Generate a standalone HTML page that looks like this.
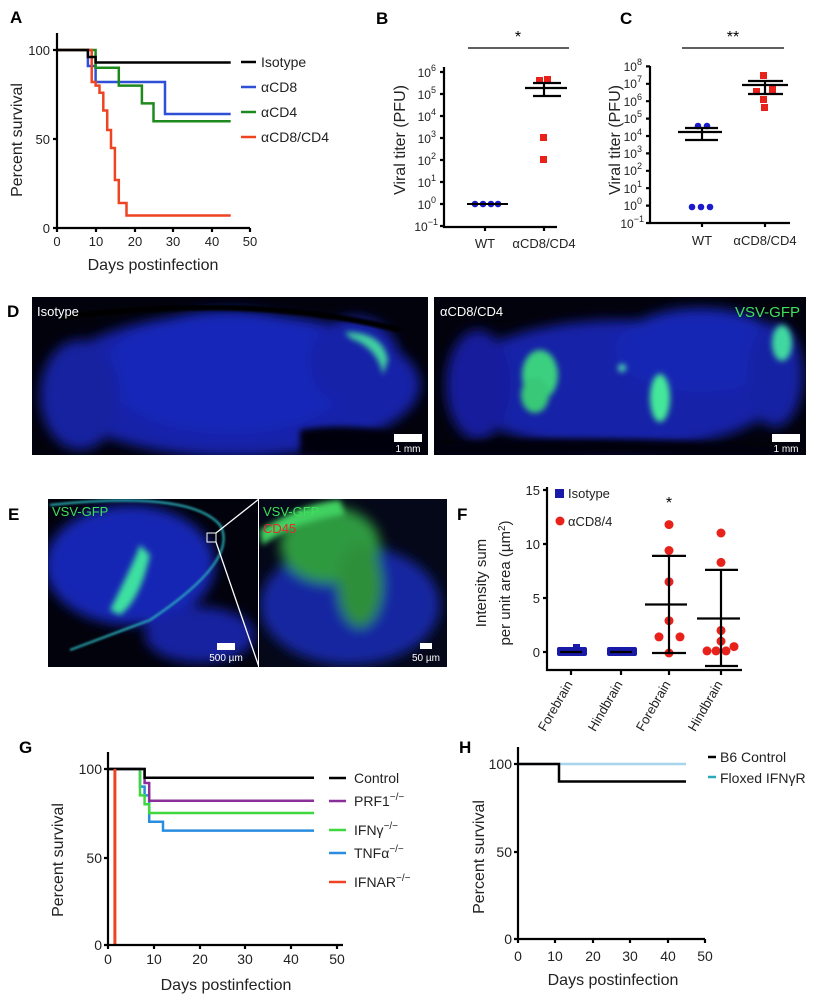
<!DOCTYPE html>
<html><head><meta charset="utf-8"><style>
html,body{margin:0;padding:0;background:#fff;}
svg{display:block;font-family:"Liberation Sans",Arial,sans-serif;}
</style></head><body>
<svg width="821" height="1001" viewBox="0 0 821 1001" xmlns="http://www.w3.org/2000/svg">
<defs>
<filter id="b6" x="-50%" y="-50%" width="200%" height="200%"><feGaussianBlur stdDeviation="6"/></filter>
<filter id="b3" x="-50%" y="-50%" width="200%" height="200%"><feGaussianBlur stdDeviation="3"/></filter>
<filter id="b1"><feGaussianBlur stdDeviation="1"/></filter>
<clipPath id="cD1"><rect x="32" y="297" width="396" height="158"/></clipPath>
<clipPath id="cD2"><rect x="434" y="297" width="372" height="158"/></clipPath>
<clipPath id="cE1"><rect x="48" y="499" width="210" height="168"/></clipPath>
<clipPath id="cE2"><rect x="259" y="499" width="188" height="168"/></clipPath>
</defs>
<rect width="821" height="1001" fill="#fff"/>

<!-- ===== A ===== -->
<text x="10" y="23" font-size="17" font-weight="bold">A</text>
<g fill="none" stroke-width="2.5" stroke-linejoin="miter">
<path d="M57,50 H87.9 V66 H95.6 V82 H165 V114 H230.7" stroke="#2f4fd6"/>
<path d="M57,50 H95.6 V67.8 H118.8 V85.6 H141.9 V103.4 H153.5 V121.2 H230.7" stroke="#1e8a1e"/>
<path d="M57,50 H91.7 V82 H95.6 V85.6 H99.5 V92.7 H103.3 V110.5 H107.2 V130 H111 V148 H114.9 V180 H118.8 V203 H126.5 V215.5 H230.7" stroke="#ee4422"/>
<path d="M57,50 H87.9 V57 H95.6 V62.5 H230.7" stroke="#000"/>
</g>
<g stroke="#000" stroke-width="2.2" fill="none">
<path d="M57,33 V228 H250"/>
<path d="M53,50 H57 M53,139 H57 M53,228 H57 M57,228 V232 M96,228 V232 M135,228 V232 M173,228 V232 M212,228 V232 M250,228 V232"/>
</g>
<g font-size="13" fill="#222">
<text x="50" y="55" text-anchor="end">100</text>
<text x="50" y="144" text-anchor="end">50</text>
<text x="50" y="233" text-anchor="end">0</text>
<g text-anchor="middle"><text x="57" y="246">0</text><text x="96" y="246">10</text><text x="135" y="246">20</text><text x="173" y="246">30</text><text x="212" y="246">40</text><text x="250" y="246">50</text></g>
</g>
<text x="153" y="270" font-size="16" text-anchor="middle" fill="#222">Days postinfection</text>
<text transform="translate(22,140) rotate(-90)" font-size="16" text-anchor="middle" fill="#222">Percent survival</text>
<g stroke-width="2.5"><line x1="241" y1="62" x2="256" y2="62" stroke="#000"/><line x1="241" y1="87" x2="256" y2="87" stroke="#2f4fd6"/><line x1="241" y1="112" x2="256" y2="112" stroke="#1e8a1e"/><line x1="241" y1="137" x2="256" y2="137" stroke="#ee4422"/></g>
<g font-size="14" fill="#222"><text x="261" y="67">Isotype</text><text x="261" y="92">αCD8</text><text x="261" y="117">αCD4</text><text x="261" y="142">αCD8/CD4</text></g>

<!-- ===== B ===== -->
<text x="376" y="24" font-size="17" font-weight="bold">B</text>
<line x1="468" y1="48" x2="569" y2="48" stroke="#000" stroke-width="1.3"/>
<text x="518" y="42" font-size="16" text-anchor="middle">*</text>
<g stroke="#000" stroke-width="2.2" fill="none">
<path d="M444,67 V227 H557"/>
<path d="M440,72 H444 M440,94 H444 M440,116 H444 M440,138 H444 M440,160 H444 M440,182 H444 M440,204 H444 M440,226 H444 M485,227 V231 M544,227 V231"/>
</g>
<g font-size="12" fill="#222" text-anchor="end">
<text x="436" y="77">10<tspan dy="-6" font-size="9">6</tspan></text>
<text x="436" y="99">10<tspan dy="-6" font-size="9">5</tspan></text>
<text x="436" y="121">10<tspan dy="-6" font-size="9">4</tspan></text>
<text x="436" y="143">10<tspan dy="-6" font-size="9">3</tspan></text>
<text x="436" y="165">10<tspan dy="-6" font-size="9">2</tspan></text>
<text x="436" y="187">10<tspan dy="-6" font-size="9">1</tspan></text>
<text x="436" y="209">10<tspan dy="-6" font-size="9">0</tspan></text>
<text x="438" y="231">10<tspan dy="-6" font-size="9">−1</tspan></text>
</g>
<text transform="translate(405,140) rotate(-90)" font-size="16" text-anchor="middle" fill="#222">Viral titer (PFU)</text>
<g fill="#1a1acc"><circle cx="475" cy="204" r="3.3"/><circle cx="483" cy="204" r="3.3"/><circle cx="491" cy="204" r="3.3"/><circle cx="498" cy="204" r="3.3"/></g>
<line x1="467" y1="204" x2="508" y2="204" stroke="#000" stroke-width="2"/>
<g fill="#e8211b"><rect x="536" y="77" width="7" height="7"/><rect x="544" y="76" width="7" height="7"/><rect x="540" y="134" width="7" height="7"/><rect x="540" y="156" width="7" height="7"/></g>
<g stroke="#000" stroke-width="2.2"><line x1="525" y1="88" x2="567" y2="88"/><line x1="533" y1="83" x2="561" y2="83"/><line x1="533" y1="96" x2="561" y2="96"/><line x1="544" y1="83" x2="544" y2="96"/></g>
<g font-size="13" fill="#222" text-anchor="middle"><text x="485" y="248">WT</text><text x="544" y="248">αCD8/CD4</text></g>

<!-- ===== C ===== -->
<text x="620" y="24" font-size="17" font-weight="bold">C</text>
<line x1="682" y1="48" x2="784" y2="48" stroke="#000" stroke-width="1.3"/>
<text x="733" y="42" font-size="16" text-anchor="middle">**</text>
<g stroke="#000" stroke-width="2.2" fill="none">
<path d="M650,66 V223 H790"/>
<path d="M646,66.4 H650 M646,83.8 H650 M646,101.2 H650 M646,118.6 H650 M646,136 H650 M646,153.4 H650 M646,170.8 H650 M646,188.2 H650 M646,205.6 H650 M646,223 H650 M702,223 V227 M765,223 V227"/>
</g>
<g font-size="12" fill="#222" text-anchor="end">
<text x="642" y="71">10<tspan dy="-6" font-size="9">8</tspan></text>
<text x="642" y="88">10<tspan dy="-6" font-size="9">7</tspan></text>
<text x="642" y="106">10<tspan dy="-6" font-size="9">6</tspan></text>
<text x="642" y="123">10<tspan dy="-6" font-size="9">5</tspan></text>
<text x="642" y="141">10<tspan dy="-6" font-size="9">4</tspan></text>
<text x="642" y="158">10<tspan dy="-6" font-size="9">3</tspan></text>
<text x="642" y="175">10<tspan dy="-6" font-size="9">2</tspan></text>
<text x="642" y="193">10<tspan dy="-6" font-size="9">1</tspan></text>
<text x="642" y="210">10<tspan dy="-6" font-size="9">0</tspan></text>
<text x="644" y="228">10<tspan dy="-6" font-size="9">−1</tspan></text>
</g>
<text transform="translate(620,140) rotate(-90)" font-size="16" text-anchor="middle" fill="#222">Viral titer (PFU)</text>
<g fill="#1a1acc"><circle cx="698" cy="126" r="3.3"/><circle cx="707" cy="126" r="3.3"/><circle cx="692" cy="207" r="3.3"/><circle cx="701" cy="207" r="3.3"/><circle cx="710" cy="207" r="3.3"/></g>
<g stroke="#000" stroke-width="2.2"><line x1="678" y1="132" x2="722" y2="132"/><line x1="685" y1="128" x2="718" y2="128"/><line x1="685" y1="140" x2="718" y2="140"/><line x1="702" y1="128" x2="702" y2="140"/></g>
<g fill="#e8211b"><rect x="760" y="72" width="7" height="7"/><rect x="753" y="88" width="7" height="7"/><rect x="769" y="86" width="7" height="7"/><rect x="760" y="96" width="7" height="7"/><rect x="761" y="104" width="7" height="7"/></g>
<g stroke="#000" stroke-width="2.2"><line x1="742" y1="85" x2="788" y2="85"/><line x1="748" y1="81" x2="783" y2="81"/><line x1="748" y1="94" x2="783" y2="94"/><line x1="765" y1="81" x2="765" y2="94"/></g>
<g font-size="13" fill="#222" text-anchor="middle"><text x="702" y="245">WT</text><text x="765" y="245">αCD8/CD4</text></g>

<!-- ===== D ===== -->
<text x="7" y="317" font-size="17" font-weight="bold">D</text>
<rect x="32" y="297" width="396" height="158" fill="#02020c"/>
<g clip-path="url(#cD1)">
<g filter="url(#b6)">
<ellipse cx="235" cy="385" rx="185" ry="72" fill="#1422a8"/>
<ellipse cx="230" cy="372" rx="125" ry="62" fill="#1828b8"/>
<ellipse cx="355" cy="362" rx="45" ry="45" fill="#1624a8"/>
<ellipse cx="80" cy="395" rx="40" ry="55" fill="#1320a0"/>
</g>
<path d="M60,318 Q250,292 400,330" stroke="#000" stroke-width="6" fill="none" filter="url(#b1)"/>
<path d="M300,430 Q360,420 420,440 L420,455 L300,455 Z" fill="#02020c" filter="url(#b3)"/>
<path d="M345,332 Q383,332 388,360 L383,375 Q378,348 350,338 Z" fill="#3fd0a0" filter="url(#b3)"/>
</g>
<rect x="394" y="434" width="28" height="8" fill="#fff"/>
<text x="408" y="452" font-size="10" fill="#fff" text-anchor="middle">1 mm</text>
<text x="37" y="316" font-size="13" fill="#fff">Isotype</text>

<rect x="434" y="297" width="372" height="158" fill="#02020c"/>
<g clip-path="url(#cD2)">
<g filter="url(#b6)">
<ellipse cx="620" cy="385" rx="165" ry="65" fill="#1422a8"/>
<ellipse cx="700" cy="350" rx="85" ry="42" fill="#1626b4"/>
<ellipse cx="478" cy="385" rx="32" ry="55" fill="#121f9c"/>
<ellipse cx="775" cy="375" rx="28" ry="52" fill="#1424a4"/>
</g>
<path d="M440,445 Q600,430 800,450 L806,455 L434,455 Z" fill="#02020c" filter="url(#b3)"/>
<g filter="url(#b3)">
<ellipse cx="540" cy="375" rx="18" ry="25" fill="#3ad080"/>
<ellipse cx="535" cy="395" rx="14" ry="18" fill="#38c878"/>
<ellipse cx="660" cy="398" rx="10" ry="24" fill="#44e89a"/>
<ellipse cx="782" cy="343" rx="10" ry="18" fill="#40d8a0"/>
<circle cx="622" cy="368" r="4" fill="#50e0b0"/>
</g>
</g>
<rect x="772" y="434" width="28" height="8" fill="#fff"/>
<text x="786" y="452" font-size="10" fill="#fff" text-anchor="middle">1 mm</text>
<text x="440" y="316" font-size="13" fill="#fff">αCD8/CD4</text>
<text x="800" y="317" font-size="15" fill="#3ee05a" text-anchor="end">VSV-GFP</text>

<!-- ===== E ===== -->
<text x="8" y="520" font-size="17" font-weight="bold">E</text>
<rect x="48" y="499" width="210" height="168" fill="#02020c"/>
<g clip-path="url(#cE1)">
<g filter="url(#b6)">
<ellipse cx="130" cy="565" rx="85" ry="60" fill="#1626b4"/>
<ellipse cx="200" cy="635" rx="55" ry="28" fill="#1320a0"/>
</g>
<path d="M110,610 Q135,560 140,545 L150,555 Q140,600 120,615 Z" fill="#3ee0a0" filter="url(#b3)"/>
<path d="M50,505 Q190,490 220,525 Q240,560 150,620 L70,650" stroke="#2ab8c0" stroke-width="2" fill="none" filter="url(#b1)"/>
</g>
<rect x="207" y="533" width="9" height="9" fill="none" stroke="#fff" stroke-width="1"/>
<line x1="216" y1="533" x2="259" y2="499" stroke="#fff" stroke-width="1.3"/>
<line x1="216" y1="542" x2="259" y2="667" stroke="#fff" stroke-width="1.3"/>
<rect x="217" y="643" width="18" height="7" fill="#fff"/>
<text x="226" y="661" font-size="10" fill="#fff" text-anchor="middle">500 µm</text>
<text x="52" y="516" font-size="13" fill="#3ee05a">VSV-GFP</text>

<rect x="259" y="499" width="188" height="168" fill="#050818"/>
<g clip-path="url(#cE2)">
<g filter="url(#b6)">
<ellipse cx="350" cy="605" rx="90" ry="60" fill="#1626a0"/>
<ellipse cx="330" cy="545" rx="50" ry="38" fill="#2f9a40"/>
<ellipse cx="360" cy="585" rx="22" ry="42" fill="#2e8f3a"/>
</g>
<path d="M260,530 Q300,505 340,500 L345,515 Q300,520 262,545 Z" fill="#40d060" filter="url(#b3)"/>
</g>
<text x="263" y="516" font-size="13" fill="#3ee05a">VSV-GFP</text>
<text x="263" y="533" font-size="13" fill="#e62a2a">CD45</text>
<rect x="420" y="643" width="12" height="6" fill="#fff"/>
<text x="426" y="661" font-size="10" fill="#fff" text-anchor="middle">50 µm</text>

<!-- ===== F ===== -->
<text x="457" y="520" font-size="17" font-weight="bold">F</text>
<g stroke="#000" stroke-width="2.2" fill="none">
<path d="M547,487 V670 H742"/>
<path d="M543,490 H547 M543,544 H547 M543,598 H547 M543,652 H547 M571,670 V675 M621,670 V675 M669,670 V675 M721,670 V675"/>
</g>
<g font-size="13" fill="#222" text-anchor="end"><text x="540" y="495">15</text><text x="540" y="549">10</text><text x="540" y="603">5</text><text x="540" y="657">0</text></g>
<text transform="translate(486,583) rotate(-90)" font-size="15" text-anchor="middle" fill="#222">Intensity sum</text>
<text transform="translate(510,583) rotate(-90)" font-size="15" text-anchor="middle" fill="#222">per unit area (µm<tspan dy="-5" font-size="10">2</tspan><tspan dy="5">)</tspan></text>
<rect x="555" y="489" width="9" height="9" fill="#1a1aa8"/>
<text x="568" y="498" font-size="13" fill="#222">Isotype</text>
<circle cx="560" cy="521" r="4.5" fill="#e8211b"/>
<text x="568" y="526" font-size="13" fill="#222">αCD8/4</text>
<text x="669" y="508" font-size="16" text-anchor="middle">*</text>
<g fill="#1a1aa8">
<rect x="557" y="647" width="30" height="9" rx="2"/><rect x="573" y="644" width="7" height="6"/>
<rect x="607" y="647" width="30" height="9" rx="2"/>
</g>
<g stroke="#000" stroke-width="2.2">
<line x1="560" y1="652" x2="582" y2="652"/><line x1="610" y1="652" x2="632" y2="652"/>
</g>
<g fill="#e8211b">
<circle cx="669" cy="524.6" r="4.5"/><circle cx="669" cy="550.5" r="4.5"/><circle cx="669" cy="581.8" r="4.5"/><circle cx="669" cy="620.7" r="4.5"/><circle cx="659" cy="636.9" r="4.5"/><circle cx="680" cy="636.9" r="4.5"/><circle cx="669" cy="653" r="4.5"/>
<circle cx="721" cy="533" r="4.5"/><circle cx="721" cy="562.4" r="4.5"/><circle cx="721" cy="630.4" r="4.5"/><circle cx="721" cy="641.2" r="4.5"/><circle cx="734" cy="646.6" r="4.5"/><circle cx="707" cy="650.9" r="4.5"/><circle cx="716" cy="650.9" r="4.5"/><circle cx="726" cy="650.9" r="4.5"/>
</g>
<g stroke="#000" stroke-width="2.2">
<line x1="645" y1="604.5" x2="687" y2="604.5"/><line x1="652" y1="555.9" x2="686" y2="555.9"/><line x1="652" y1="653" x2="686" y2="653"/><line x1="669" y1="555.9" x2="669" y2="653"/>
<line x1="697" y1="618.5" x2="740" y2="618.5"/><line x1="705" y1="569.9" x2="738" y2="569.9"/><line x1="705" y1="666" x2="738" y2="666"/><line x1="721" y1="569.9" x2="721" y2="666"/>
</g>
<g font-size="13" fill="#222" text-anchor="end">
<text transform="translate(573,684) rotate(-60)">Forebrain</text>
<text transform="translate(623,684) rotate(-60)">Hindbrain</text>
<text transform="translate(671,684) rotate(-60)">Forebrain</text>
<text transform="translate(723,684) rotate(-60)">Hindbrain</text>
</g>

<!-- ===== G ===== -->
<text x="19" y="753" font-size="17" font-weight="bold">G</text>
<g fill="none" stroke-width="2.5">
<path d="M108,769 H140 V786.6 H144.6 V795.4 H149.2 V821.8 H163 V830.6 H314" stroke="#2a8de0"/>
<path d="M108,769 H140 V795.4 H144.6 V804.2 H149.2 V813 H314" stroke="#3ed83e"/>
<path d="M108,769 H144.6 V783 H149.2 V800.7 H314" stroke="#8a2f9a"/>
<path d="M108,769 H144.6 V777.8 H314" stroke="#000"/>
<path d="M114.9,769 V945" stroke="#ee4422" stroke-width="3"/>
</g>
<g stroke="#000" stroke-width="2.2" fill="none">
<path d="M108,752 V945 H343"/>
<path d="M104,769 H108 M104,858 H108 M104,945 H108 M108,945 V949 M154,945 V949 M200,945 V949 M245,945 V949 M291,945 V949 M337,945 V949"/>
</g>
<g font-size="14" fill="#222">
<text x="102" y="774" text-anchor="end">100</text><text x="102" y="863" text-anchor="end">50</text><text x="102" y="950" text-anchor="end">0</text>
<g text-anchor="middle"><text x="108" y="964">0</text><text x="154" y="964">10</text><text x="200" y="964">20</text><text x="245" y="964">30</text><text x="291" y="964">40</text><text x="337" y="964">50</text></g>
</g>
<text x="226" y="990" font-size="16" text-anchor="middle" fill="#222">Days postinfection</text>
<text transform="translate(63,860) rotate(-90)" font-size="16" text-anchor="middle" fill="#222">Percent survival</text>
<g stroke-width="2.5"><line x1="329" y1="778" x2="346" y2="778" stroke="#000"/><line x1="329" y1="801" x2="346" y2="801" stroke="#8a2f9a"/><line x1="329" y1="830" x2="346" y2="830" stroke="#3ed83e"/><line x1="329" y1="853" x2="346" y2="853" stroke="#2a8de0"/><line x1="329" y1="882" x2="346" y2="882" stroke="#ee4422"/></g>
<g font-size="14" fill="#222">
<text x="354" y="783">Control</text>
<text x="354" y="806">PRF1<tspan dy="-6" font-size="10">−/−</tspan></text>
<text x="354" y="835">IFNγ<tspan dy="-6" font-size="10">−/−</tspan></text>
<text x="354" y="858">TNFα<tspan dy="-6" font-size="10">−/−</tspan></text>
<text x="354" y="887">IFNAR<tspan dy="-6" font-size="10">−/−</tspan></text>
</g>

<!-- ===== H ===== -->
<text x="459" y="753" font-size="17" font-weight="bold">H</text>
<g fill="none" stroke-width="2.5">
<path d="M518,764 H686" stroke="#a8d4ee"/>
<path d="M518,764 H559 V781.5 H686" stroke="#000"/>
</g>
<g stroke="#000" stroke-width="2.2" fill="none">
<path d="M518,747 V939 H705"/>
<path d="M514,764 H518 M514,852 H518 M514,939 H518 M518,939 V943 M555,939 V943 M593,939 V943 M630,939 V943 M668,939 V943 M705,939 V943"/>
</g>
<g font-size="14" fill="#222">
<text x="512" y="769" text-anchor="end">100</text><text x="512" y="857" text-anchor="end">50</text><text x="512" y="944" text-anchor="end">0</text>
<g text-anchor="middle"><text x="518" y="961">0</text><text x="555" y="961">10</text><text x="593" y="961">20</text><text x="630" y="961">30</text><text x="668" y="961">40</text><text x="705" y="961">50</text></g>
</g>
<text x="613" y="985" font-size="16" text-anchor="middle" fill="#222">Days postinfection</text>
<text transform="translate(484,857) rotate(-90)" font-size="16" text-anchor="middle" fill="#222">Percent survival</text>
<line x1="708" y1="757" x2="716" y2="757" stroke="#000" stroke-width="2.5"/>
<line x1="708" y1="777" x2="716" y2="777" stroke="#2aa8b8" stroke-width="2.5"/>
<g font-size="14" fill="#222"><text x="720" y="762">B6 Control</text><text x="720" y="783">Floxed IFNγR</text></g>
</svg>
</body></html>
